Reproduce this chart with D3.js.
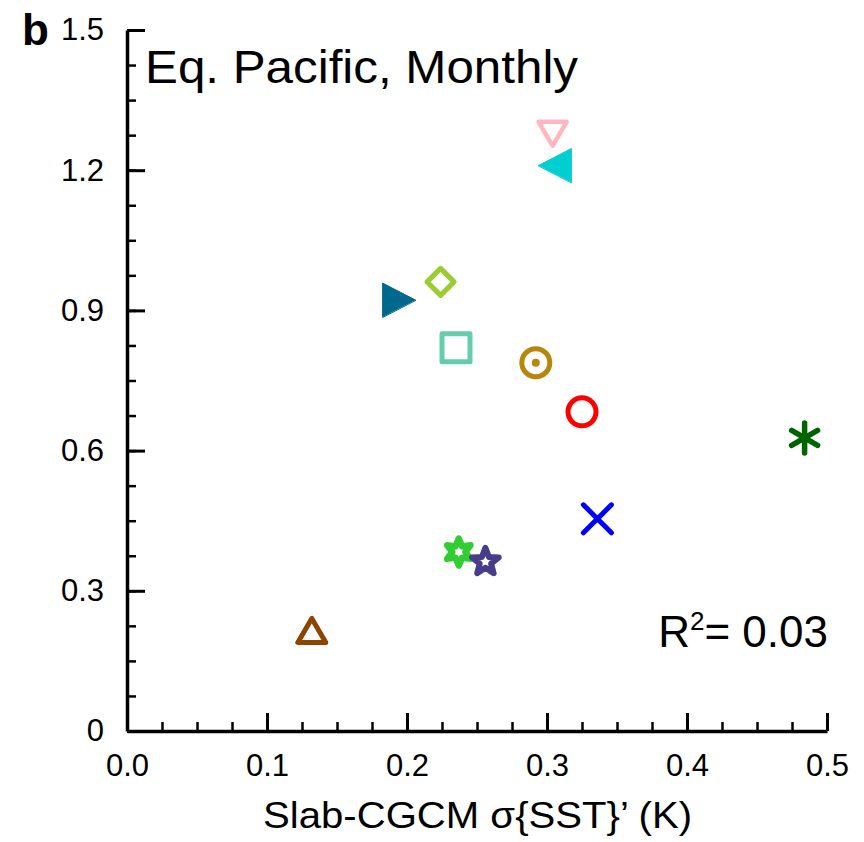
<!DOCTYPE html>
<html>
<head>
<meta charset="utf-8">
<script src="https://cdn.jsdelivr.net/npm/d3@7"></script>
<style>
  body { margin: 0; background: #fff; }
  text { font-family: "Liberation Sans", Arial, Helvetica, sans-serif; }
</style>
</head>
<body>
<div id="chart"></div>
<script>
'use strict';

// one point per model
var models = ['m1', 'm2', 'm3', 'm4', 'm5', 'm6', 'm7', 'm8', 'm9', 'm10', 'm11', 'm12'];
var xVals = [0.304, 0.306, 0.224, 0.194, 0.235, 0.292, 0.325, 0.484, 0.336, 0.237, 0.256, 0.132];
var yVals = [1.28, 1.21, 0.961, 0.922, 0.82, 0.788, 0.683, 0.627, 0.454, 0.383, 0.362, 0.213];
var shapes = ['triDownOpen', 'triLeft', 'diamond', 'triRight', 'square', 'circleDot',
  'circle', 'asterisk', 'cross', 'hexagram', 'star5', 'triUpOpen'];
var colors = ['#FFB6C1', '#00CED1', '#9ACD32', '#00688B', '#66CDAA', '#B8860B',
  '#FF0000', '#006400', '#0000FF', '#32CD32', '#483D8B', '#8B4500'];

var xTicks = [0, 0.1, 0.2, 0.3, 0.4, 0.5];
var xTickLabels = ['0.0', '0.1', '0.2', '0.3', '0.4', '0.5'];
var yTicks = [0, 0.3, 0.6, 0.9, 1.2, 1.5];
var yTickLabels = ['0', '0.3', '0.6', '0.9', '1.2', '1.5'];
var xMinor = d3.range(0, 0.5001, 0.025);
var yMinor = d3.range(0, 1.5001, 0.075);

var width = 864, height = 842;

var svg = d3.select('#chart')
  .append('svg')
  .attr('width', width)
  .attr('height', height);

var x = d3.scaleLinear().domain([0, 0.5]).range([127, 827]);
var y = d3.scaleLinear().domain([0, 1.5]).range([731, 30]);

// minor ticks first
svg.append('g')
  .attr('transform', 'translate(0,' + y(0) + ')')
  .call(d3.axisBottom(x).tickValues(xMinor).tickSize(-9).tickFormat(''))
  .call(function (g) { g.select('.domain').remove(); })
  .selectAll('line').attr('stroke', '#000').attr('stroke-width', 2.5);

svg.append('g')
  .attr('transform', 'translate(' + x(0) + ',0)')
  .call(d3.axisLeft(y).tickValues(yMinor).tickSize(-9).tickFormat(''))
  .call(function (g) { g.select('.domain').remove(); })
  .selectAll('line').attr('stroke', '#000').attr('stroke-width', 2.5);

// major ticks + labels
var xAxis = svg.append('g')
  .attr('transform', 'translate(0,' + y(0) + ')')
  .call(d3.axisBottom(x).tickValues(xTicks).tickSizeInner(-18).tickSizeOuter(0).tickPadding(23)
    .tickFormat(function (d, i) { return xTickLabels[i]; }));

var yAxis = svg.append('g')
  .attr('transform', 'translate(' + x(0) + ',0)')
  .call(d3.axisLeft(y).tickValues(yTicks).tickSizeInner(-18).tickSizeOuter(0).tickPadding(23)
    .tickFormat(function (d, i) { return yTickLabels[i]; }));

[xAxis, yAxis].forEach(function (g) {
  g.select('.domain').attr('stroke', '#000').attr('stroke-width', 3.5);
  g.selectAll('.tick line').attr('stroke', '#000').attr('stroke-width', 3);
  g.selectAll('.tick text')
    .attr('fill', '#000')
    .style('font-size', '31px')
    .style('font-family', '"Liberation Sans", Arial, Helvetica, sans-serif');
});

// marker shapes, centred at 0,0
var star = function (n, rOut, rIn) {
  var pts = [];
  for (var k = 0; k < 2 * n; k++) {
    var a = Math.PI * k / n - Math.PI / 2;
    var r = k % 2 === 0 ? rOut : rIn;
    pts.push([r * Math.cos(a), r * Math.sin(a)]);
  }
  return 'M' + pts.join('L') + 'Z';
};

var markerDefs = {
  triDownOpen: { d: 'M-14,-11L14,-11L0,13Z', fill: false, sw: 4.5 },
  triUpOpen: { d: 'M-14,11L14,11L0,-13Z', fill: false, sw: 5 },
  triLeft: { d: 'M-17,0L16,-17L16,17Z', fill: true },
  triRight: { d: 'M17,0L-16,-17L-16,17Z', fill: true },
  diamond: { d: 'M0,-13.5L13.5,0L0,13.5L-13.5,0Z', fill: false, sw: 5 },
  square: { d: 'M-14,-14L14,-14L14,14L-14,14Z', fill: false, sw: 5 },
  circle: { d: 'M14,0A14,14 0 1,1 -14,0A14,14 0 1,1 14,0Z', fill: false, sw: 5 },
  circleDot: { d: 'M14,0A14,14 0 1,1 -14,0A14,14 0 1,1 14,0Z', fill: false, sw: 5, dot: 4 },
  cross: { d: 'M-14,-14L14,14M14,-14L-14,14', fill: false, sw: 5 },
  asterisk: { d: 'M0,-15L0,15M-13,-7.5L13,7.5M-13,7.5L13,-7.5', fill: false, sw: 5.5 },
  hexagram: { d: star(6, 13.5, 6.5), fill: false, sw: 6.5 },
  star5: { d: star(5, 14, 6), fill: false, sw: 6 }
};

var points = svg.append('g').selectAll('g')
  .data(models)
  .enter().append('g')
  .attr('transform', function (d, i) { return 'translate(' + x(xVals[i]) + ',' + y(yVals[i]) + ')'; });

points.append('path')
  .attr('d', function (d, i) { return markerDefs[shapes[i]].d; })
  .attr('fill', function (d, i) { return markerDefs[shapes[i]].fill ? colors[i] : 'none'; })
  .attr('stroke', function (d, i) { return colors[i]; })
  .attr('stroke-width', function (d, i) { return markerDefs[shapes[i]].sw || 1; })
  .attr('stroke-linejoin', 'round')
  .attr('stroke-linecap', 'round');

points.filter(function (d, i) { return markerDefs[shapes[i]].dot; })
  .append('circle')
  .attr('r', function (d) { return markerDefs[shapes[models.indexOf(d)]].dot; })
  .attr('fill', function (d) { return colors[models.indexOf(d)]; });

// texts
svg.append('text')
  .attr('x', 22)
  .attr('y', 45)
  .style('font-size', '44px')
  .style('font-weight', 'bold')
  .text('b');

svg.append('text')
  .attr('x', 145)
  .attr('y', 83)
  .attr('textLength', 433)
  .attr('lengthAdjust', 'spacingAndGlyphs')
  .style('font-size', '46px')
  .text('Eq. Pacific, Monthly');

var r2 = svg.append('text')
  .attr('x', 828)
  .attr('y', 647)
  .attr('text-anchor', 'end')
  .style('font-size', '44px');
r2.append('tspan').text('R');
r2.append('tspan').attr('dy', -17).style('font-size', '26px').text('2');
r2.append('tspan').attr('dy', 17).text('= 0.03');

svg.append('text')
  .attr('x', 263)
  .attr('y', 828)
  .attr('textLength', 429)
  .attr('lengthAdjust', 'spacingAndGlyphs')
  .style('font-size', '37px')
  .text('Slab-CGCM \u03c3{SST}\u2019 (K)');
</script>
</body>
</html>
